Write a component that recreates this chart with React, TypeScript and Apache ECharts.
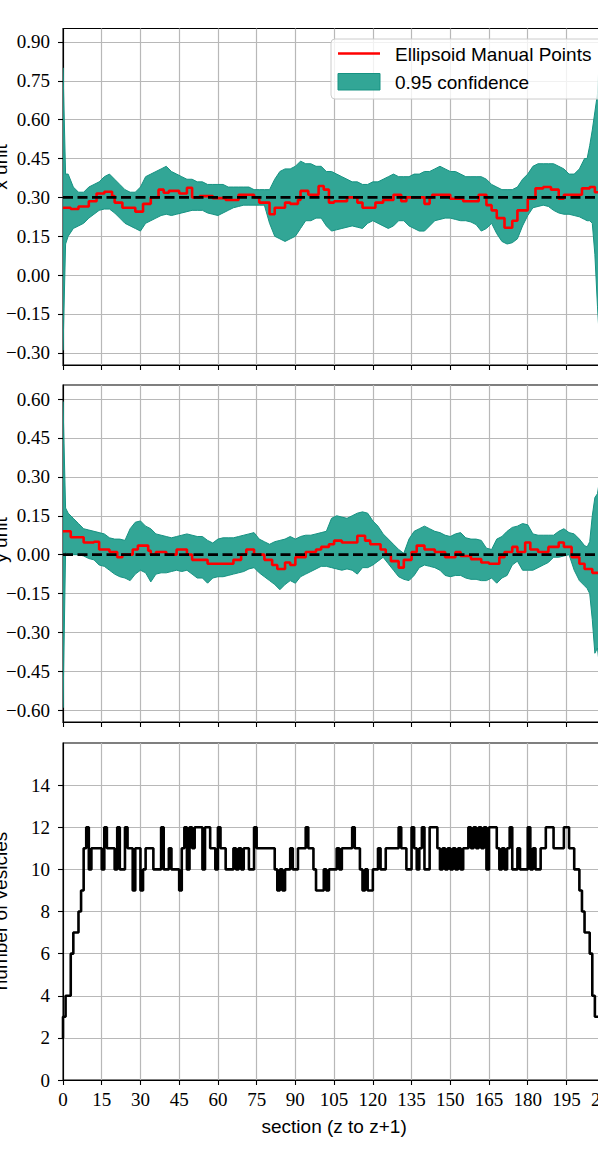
import React, { useEffect, useRef } from "react";
import * as echarts from "echarts";

// ---------- data ----------
const X_MAX = 210;
const X_STEP = 15;

const p1YTicks = [-0.3, -0.15, 0, 0.15, 0.3, 0.45, 0.6, 0.75, 0.9];
const p2YTicks = [-0.6, -0.45, -0.3, -0.15, 0, 0.15, 0.3, 0.45, 0.6];
const p3YTicks = [0, 2, 4, 6, 8, 10, 12, 14];

const p1Reference = 0.3;
const p2Reference = 0.0;

// [section, lower 0.95 bound, upper 0.95 bound]
const p1Band = [
  [0, -0.29, 0.8], [1, 0.12, 0.39], [2, 0.15, 0.39], [4, 0.18, 0.34], [6, 0.19, 0.32],
  [8, 0.2, 0.32], [10, 0.22, 0.34], [12, 0.235, 0.35], [14, 0.25, 0.36], [16, 0.255, 0.38],
  [18, 0.255, 0.39], [20, 0.24, 0.37], [22, 0.22, 0.35], [24, 0.2, 0.33], [26, 0.19, 0.32],
  [28, 0.18, 0.32], [30, 0.17, 0.34], [32, 0.2, 0.38], [34, 0.21, 0.39], [36, 0.22, 0.4],
  [38, 0.23, 0.41], [40, 0.235, 0.42], [42, 0.23, 0.4], [44, 0.235, 0.39], [46, 0.24, 0.38],
  [48, 0.245, 0.37], [50, 0.25, 0.37], [52, 0.25, 0.36], [54, 0.25, 0.36], [56, 0.24, 0.35],
  [58, 0.235, 0.35], [60, 0.23, 0.35], [62, 0.24, 0.35], [64, 0.25, 0.34], [66, 0.26, 0.34],
  [68, 0.265, 0.34], [70, 0.27, 0.34], [72, 0.27, 0.34], [74, 0.27, 0.33], [76, 0.27, 0.33],
  [78, 0.27, 0.33], [80, 0.2, 0.33], [82, 0.15, 0.37], [84, 0.14, 0.4], [86, 0.13, 0.41],
  [88, 0.14, 0.41], [90, 0.15, 0.42], [92, 0.18, 0.44], [94, 0.21, 0.43], [96, 0.21, 0.43],
  [98, 0.22, 0.42], [100, 0.22, 0.42], [102, 0.19, 0.4], [104, 0.17, 0.4], [106, 0.175, 0.39],
  [108, 0.18, 0.38], [110, 0.185, 0.37], [112, 0.19, 0.36], [114, 0.185, 0.36], [116, 0.18, 0.35],
  [118, 0.2, 0.35], [120, 0.21, 0.36], [122, 0.2, 0.36], [124, 0.19, 0.37], [126, 0.18, 0.38],
  [128, 0.19, 0.39], [130, 0.21, 0.38], [132, 0.21, 0.38], [134, 0.19, 0.38], [136, 0.18, 0.39],
  [138, 0.17, 0.39], [140, 0.17, 0.4], [142, 0.19, 0.4], [144, 0.21, 0.41], [146, 0.215, 0.42],
  [148, 0.22, 0.41], [150, 0.22, 0.4], [152, 0.215, 0.4], [154, 0.21, 0.39], [156, 0.21, 0.38],
  [158, 0.205, 0.38], [160, 0.195, 0.38], [162, 0.17, 0.38], [164, 0.18, 0.37], [166, 0.2, 0.35],
  [168, 0.16, 0.34], [170, 0.13, 0.33], [172, 0.12, 0.33], [174, 0.125, 0.33], [176, 0.14, 0.34],
  [178, 0.19, 0.37], [180, 0.23, 0.39], [182, 0.26, 0.42], [184, 0.265, 0.43], [186, 0.27, 0.43],
  [188, 0.265, 0.43], [190, 0.25, 0.43], [192, 0.24, 0.42], [194, 0.235, 0.41], [196, 0.235, 0.39],
  [198, 0.23, 0.39], [200, 0.225, 0.41], [202, 0.215, 0.45], [203, 0.21, 0.45], [204, 0.21, 0.5],
  [205, 0.2, 0.56], [206, 0.08, 0.63], [207, -0.12, 0.7], [208, -0.29, 0.89], [209, -0.2, 0.8],
  [210, -0.1, 0.7],
];

// [section where the step starts, mean value]
const p1Mean = [
  [0, 0.26], [3, 0.255], [6, 0.265], [10, 0.285], [13, 0.315], [16, 0.322], [19, 0.305],
  [20, 0.28], [23, 0.26], [28, 0.245], [31, 0.275], [34, 0.3], [37, 0.33], [39, 0.318],
  [41, 0.325], [45, 0.315], [48, 0.337], [50, 0.3], [53, 0.305], [58, 0.297], [63, 0.29],
  [68, 0.31], [74, 0.3], [76, 0.28], [80, 0.235], [82, 0.26], [86, 0.28], [88, 0.275],
  [91, 0.29], [92, 0.325], [95, 0.31], [99, 0.344], [101, 0.33], [103, 0.28], [105, 0.285],
  [110, 0.3], [114, 0.28], [116, 0.26], [121, 0.28], [124, 0.29], [128, 0.31], [131, 0.285],
  [133, 0.3], [140, 0.275], [142, 0.3], [143, 0.31], [150, 0.295], [155, 0.285], [161, 0.31],
  [164, 0.27], [166, 0.25], [168, 0.22], [171, 0.183], [174, 0.21], [176, 0.25], [180, 0.295],
  [183, 0.335], [186, 0.34], [189, 0.33], [192, 0.295], [194, 0.31], [201, 0.335], [204, 0.34],
  [206, 0.32], [209, 0.32],
];

const p2Band = [
  [0, -0.59, 0.59], [1, 0.01, 0.18], [2, 0.0, 0.16], [4, 0.0, 0.14], [6, 0.0, 0.12],
  [8, -0.005, 0.1], [10, -0.015, 0.095], [12, -0.02, 0.09], [14, -0.04, 0.085], [16, -0.045, 0.08],
  [18, -0.06, 0.065], [20, -0.075, 0.06], [22, -0.085, 0.06], [24, -0.09, 0.055], [26, -0.1, 0.1],
  [28, -0.075, 0.125], [30, -0.06, 0.13], [32, -0.07, 0.11], [34, -0.105, 0.1], [36, -0.075, 0.08],
  [38, -0.07, 0.075], [40, -0.07, 0.07], [42, -0.065, 0.065], [44, -0.06, 0.07], [46, -0.065, 0.075],
  [48, -0.06, 0.08], [50, -0.075, 0.075], [52, -0.09, 0.07], [54, -0.09, 0.07], [56, -0.11, 0.055],
  [58, -0.09, 0.045], [60, -0.085, 0.06], [62, -0.085, 0.065], [64, -0.08, 0.065], [66, -0.075, 0.065],
  [68, -0.07, 0.07], [70, -0.065, 0.075], [72, -0.055, 0.08], [74, -0.05, 0.085], [76, -0.07, 0.06],
  [78, -0.085, 0.05], [80, -0.1, 0.04], [82, -0.115, 0.05], [84, -0.135, 0.055], [86, -0.115, 0.06],
  [88, -0.1, 0.07], [90, -0.11, 0.06], [92, -0.085, 0.07], [94, -0.075, 0.075], [96, -0.065, 0.075],
  [98, -0.055, 0.08], [100, -0.045, 0.085], [102, -0.045, 0.09], [104, -0.05, 0.14], [106, -0.055, 0.15],
  [108, -0.06, 0.145], [110, -0.055, 0.14], [112, -0.06, 0.15], [114, -0.075, 0.16], [116, -0.05, 0.165],
  [118, -0.05, 0.16], [120, -0.04, 0.13], [122, -0.025, 0.11], [124, -0.01, 0.08], [126, -0.035, 0.06],
  [128, -0.06, 0.04], [130, -0.085, 0.02], [132, -0.095, 0.005], [134, -0.1, 0.06], [136, -0.08, 0.09],
  [138, -0.05, 0.1], [140, -0.04, 0.11], [142, -0.045, 0.1], [144, -0.05, 0.09], [146, -0.06, 0.085],
  [148, -0.08, 0.075], [150, -0.085, 0.07], [152, -0.08, 0.08], [154, -0.08, 0.085], [156, -0.09, 0.065],
  [158, -0.095, 0.06], [160, -0.095, 0.06], [162, -0.1, 0.055], [164, -0.1, 0.025], [166, -0.09, 0.02],
  [168, -0.11, 0.06], [170, -0.09, 0.07], [172, -0.08, 0.09], [174, -0.04, 0.105], [176, -0.025, 0.11],
  [178, -0.06, 0.12], [180, -0.06, 0.115], [182, -0.06, 0.08], [184, -0.05, 0.075], [186, -0.04, 0.075],
  [188, -0.03, 0.075], [190, -0.01, 0.075], [192, -0.01, 0.09], [194, -0.005, 0.1], [196, 0.0, 0.085],
  [198, -0.06, 0.08], [200, -0.1, 0.06], [202, -0.12, 0.035], [203, -0.13, 0.03], [204, -0.15, 0.05],
  [205, -0.25, 0.15], [206, -0.38, 0.22], [207, -0.36, 0.235], [208, -0.45, 0.3], [209, -0.3, 0.2],
  [210, -0.1, 0.1],
];

const p2Mean = [
  [0, 0.09], [3, 0.067], [8, 0.047], [12, 0.05], [14, 0.02], [18, 0.01], [21, -0.01],
  [23, 0.0], [27, 0.02], [29, 0.035], [33, 0.015], [34, 0.0], [36, 0.01], [40, 0.0],
  [44, 0.02], [48, 0.0], [50, -0.02], [56, -0.035], [66, -0.02], [69, 0.0], [71, 0.02],
  [74, 0.0], [78, -0.02], [81, -0.04], [83, -0.055], [86, -0.03], [88, -0.04], [90, -0.01],
  [94, 0.01], [98, 0.02], [100, 0.03], [103, 0.04], [105, 0.054], [108, 0.047], [114, 0.073],
  [117, 0.054], [119, 0.04], [123, 0.02], [125, 0.0], [127, -0.025], [130, -0.05], [132, -0.02],
  [135, 0.01], [137, 0.035], [140, 0.02], [144, 0.01], [148, -0.01], [152, 0.01], [154, -0.005],
  [158, -0.017], [162, -0.03], [165, -0.035], [169, -0.01], [171, 0.01], [174, 0.03], [176, 0.01],
  [179, 0.047], [181, 0.02], [184, 0.01], [188, 0.03], [192, 0.047], [194, 0.03], [197, -0.01],
  [200, -0.035], [202, -0.055], [205, -0.07], [209, -0.07],
];

// number of vesicles per section (index = section)
const vesicleCounts = [
  2, 3, 4, 4, 6, 7, 7, 8, 9, 11,
  12, 10, 11, 11, 11, 11, 10, 12, 11, 11,
  11, 10, 12, 10, 10, 12, 11, 11, 9, 11,
  11, 9, 10, 11, 11, 11, 10, 10, 10, 12,
  10, 10, 11, 10, 10, 10, 9, 11, 12, 10,
  12, 11, 12, 12, 12, 10, 12, 12, 11, 11,
  10, 12, 11, 11, 10, 10, 10, 11, 10, 11,
  10, 11, 11, 10, 10, 12, 11, 11, 11, 11,
  11, 11, 11, 10, 9, 10, 9, 10, 10, 11,
  10, 10, 11, 11, 11, 12, 11, 11, 10, 9,
  9, 9, 10, 9, 10, 10, 10, 11, 10, 11,
  11, 11, 11, 12, 11, 11, 10, 9, 10, 9,
  9, 10, 10, 11, 10, 10, 11, 11, 11, 11,
  11, 12, 11, 11, 10, 10, 12, 11, 10, 11,
  12, 10, 10, 12, 12, 12, 11, 10, 11, 10,
  11, 10, 11, 10, 11, 10, 11, 11, 12, 11,
  12, 11, 12, 11, 12, 10, 12, 12, 12, 11,
  10, 11, 10, 11, 12, 10, 10, 11, 10, 10,
  10, 12, 10, 11, 10, 10, 11, 11, 12, 12,
  12, 11, 11, 11, 11, 12, 12, 11, 11, 10,
  10, 9, 8, 7, 7, 6, 4, 3, 3, 3,
];

const xTitle = "section (z to z+1)";
const yTitles = ["x unit", "y unit", "number of vesicles"];
const legendLabels = ["Ellipsoid Manual Points", "0.95 confidence"];

// ---------- styles ----------
const SERIF = "'Liberation Serif', 'Times New Roman', serif";
const SANS = "'Liberation Sans', Arial, sans-serif";
const TEAL = "rgb(50,166,150)";
const TEAL_EDGE = "rgb(22,146,130)";
const RED = "#ff0000";
const GRID_COLOR = "#b8b8b8";
const AXIS_STYLE = { color: "#000", width: 1.1 };

const GRID_LEFT = 63;
const PLOT_W = 542.2;
const PANELS = [
  { top: 28.5, height: 336.5 },
  { top: 385, height: 337 },
  { top: 743, height: 337 },
];

const fmt2 = (v: number) => {
  const s = Math.abs(v) < 1e-9 ? "0.00" : v.toFixed(2);
  return s.replace("-", "\u2212");
};

function bandSeries(i: number, band: number[][]) {
  return {
    type: "custom",
    xAxisIndex: i,
    yAxisIndex: i,
    data: band.map((r) => [r[0], r[1], r[2]]),
    encode: { x: 0, y: [1, 2] },
    silent: true,
    clip: true,
    z: 2,
    renderItem: (params: any, api: any) => {
      if (params.dataIndex !== 0) return null;
      const upper = band.map((r) => api.coord([r[0], r[2]]));
      const lower = band.map((r) => api.coord([r[0], r[1]])).reverse();
      const cs = params.coordSys;
      return {
        type: "polygon",
        shape: { points: upper.concat(lower) },
        style: { fill: TEAL, stroke: TEAL_EDGE, lineWidth: 1 },
        clipPath: {
          type: "rect",
          shape: { x: cs.x, y: cs.y, width: cs.width, height: cs.height },
        },
      };
    },
  };
}

function buildOption() {
  const grid = PANELS.map((p) => ({
    left: GRID_LEFT,
    top: p.top,
    width: PLOT_W,
    height: p.height,
    show: true,
    borderColor: "#000",
    borderWidth: 1.1,
    backgroundColor: "transparent",
    containLabel: false,
    outerBoundsMode: "none",
  }));

  const xAxis = PANELS.map((_, i) => ({
    type: "value",
    gridIndex: i,
    min: 0,
    max: X_MAX,
    interval: X_STEP,
    axisLine: { show: true, onZero: false, lineStyle: AXIS_STYLE },
    axisTick: { show: true, length: 5, lineStyle: AXIS_STYLE },
    axisLabel: {
      show: i === 2,
      color: "#000",
      fontFamily: SERIF,
      fontSize: 19,
      margin: 10,
      showMinLabel: true,
      showMaxLabel: true,
      hideOverlap: false,
    },
    splitLine: { show: true, lineStyle: { color: GRID_COLOR, width: 1.2 } },
    name: i === 2 ? xTitle : "",
    nameLocation: "middle",
    nameGap: 37,
    nameTextStyle: { fontFamily: SANS, fontSize: 19, color: "#000" },
  }));

  const yDefs = [
    { min: -0.347, max: 0.952, ticks: p1YTicks, fmt: fmt2 },
    { min: -0.645, max: 0.654, ticks: p2YTicks, fmt: fmt2 },
    { min: 0, max: 16, ticks: p3YTicks, fmt: (v: number) => String(Math.round(v)) },
  ];
  const yAxis = yDefs.map((d, i) => ({
    type: "value",
    gridIndex: i,
    min: d.min,
    max: d.max,
    axisLine: { show: true, onZero: false, lineStyle: AXIS_STYLE },
    axisTick: { show: true, length: 5, customValues: d.ticks, lineStyle: AXIS_STYLE },
    axisLabel: {
      customValues: d.ticks,
      formatter: d.fmt,
      color: "#000",
      fontFamily: SERIF,
      fontSize: 19,
      margin: 13,
      hideOverlap: false,
    },
    splitLine: { show: true, lineStyle: { color: GRID_COLOR, width: 1.2 } },
  }));

  const series: any[] = [];
  const bands = [p1Band, p2Band];
  const means = [p1Mean, p2Mean];
  const refs = [p1Reference, p2Reference];
  for (let i = 0; i < 2; i++) {
    series.push(bandSeries(i, bands[i]));
    series.push({
      type: "line",
      xAxisIndex: i,
      yAxisIndex: i,
      data: means[i],
      step: "end",
      symbol: "none",
      showSymbol: false,
      silent: true,
      lineStyle: { color: RED, width: 2.6 },
      z: 3,
    });
    series.push({
      type: "line",
      xAxisIndex: i,
      yAxisIndex: i,
      data: [
        [0, refs[i]],
        [X_MAX, refs[i]],
      ],
      symbol: "none",
      showSymbol: false,
      silent: true,
      lineStyle: { color: "#000", width: 2.6, type: [10, 4.5] },
      z: 4,
    });
  }
  series.push({
    type: "line",
    xAxisIndex: 2,
    yAxisIndex: 2,
    data: vesicleCounts.map((c, k) => [k, c]),
    step: "start",
    symbol: "none",
    showSymbol: false,
    silent: true,
    lineStyle: { color: "#000", width: 2.6 },
    z: 3,
  });

  const titleCenters = [167, 540, 911];
  const graphic: any[] = yTitles.map((t, i) => ({
    type: "text",
    x: 0.5,
    y: titleCenters[i],
    rotation: Math.PI / 2,
    silent: true,
    style: {
      text: t,
      fill: "#000",
      font: `19px ${SANS}`,
      textAlign: "center",
      textVerticalAlign: "middle",
    },
  }));
  graphic.push(
    {
      type: "rect",
      z: 100,
      silent: true,
      shape: { x: 331, y: 39, width: 300, height: 60, r: 4 },
      style: { fill: "rgba(255,255,255,0.8)", stroke: "#cccccc", lineWidth: 1 },
    },
    {
      type: "line",
      z: 101,
      silent: true,
      shape: { x1: 338, y1: 53.5, x2: 380, y2: 53.5 },
      style: { stroke: RED, lineWidth: 2.6 },
    },
    {
      type: "rect",
      z: 101,
      silent: true,
      shape: { x: 338, y: 73.5, width: 42, height: 16.5 },
      style: { fill: TEAL, stroke: TEAL_EDGE, lineWidth: 1 },
    },
    {
      type: "text",
      z: 101,
      silent: true,
      x: 395,
      y: 54,
      style: {
        text: legendLabels[0],
        fill: "#000",
        font: `19px ${SANS}`,
        textAlign: "left",
        textVerticalAlign: "middle",
      },
    },
    {
      type: "text",
      z: 101,
      silent: true,
      x: 395,
      y: 82,
      style: {
        text: legendLabels[1],
        fill: "#000",
        font: `19px ${SANS}`,
        textAlign: "left",
        textVerticalAlign: "middle",
      },
    }
  );

  return {
    animation: false,
    backgroundColor: "#fff",
    grid,
    xAxis,
    yAxis,
    series,
    graphic,
  };
}

export default function App() {
  const ref = useRef<HTMLDivElement | null>(null);
  useEffect(() => {
    if (!ref.current) return;
    const chart = echarts.init(ref.current, null, { renderer: "svg" });
    chart.setOption(buildOption() as any);
    return () => chart.dispose();
  }, []);
  return (
    <div
      style={{
        position: "absolute",
        left: 0,
        top: 0,
        width: 598,
        height: 1155,
        overflow: "hidden",
        background: "#fff",
      }}
    >
      <div ref={ref} style={{ width: 640, height: 1155 }} />
    </div>
  );
}
